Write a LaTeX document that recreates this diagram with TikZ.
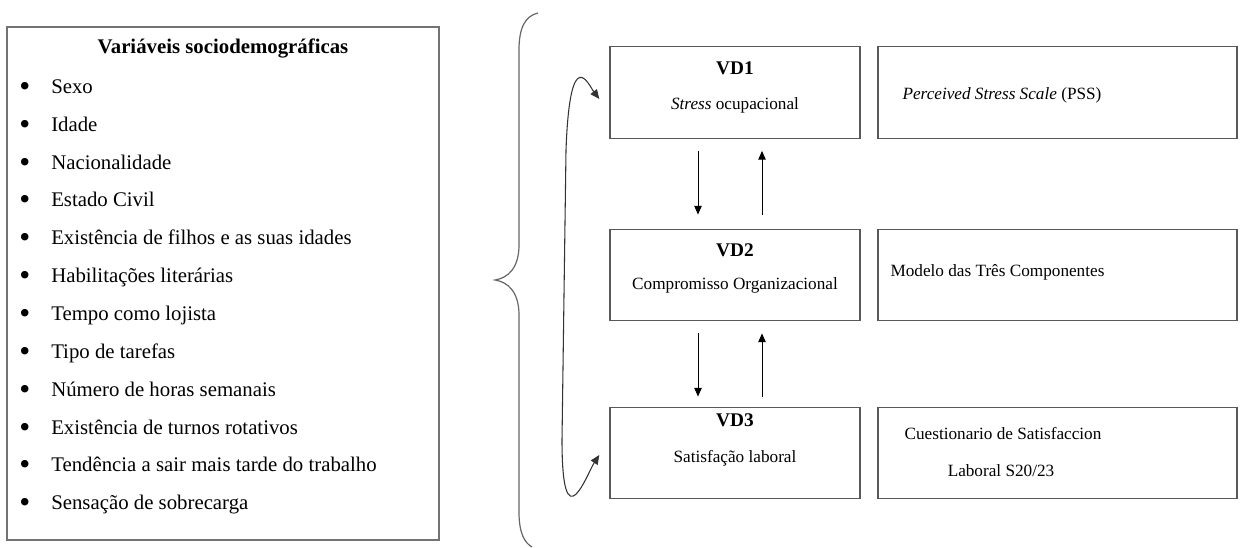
\documentclass[tikz,border=0pt]{standalone}
\usepackage{graphicx}
\usepackage{fontspec}
\setmainfont{Liberation Serif}
\usetikzlibrary{arrows.meta}

\begin{document}
\begin{tikzpicture}[x=0.75pt,y=-0.75pt]
		\tikzstyle{sociobox}=[draw=black!55,line width=1.3pt,minimum width=324pt,minimum height=384.75pt,inner sep=0pt]
		\tikzstyle{vdbox}=[draw=black!65,line width=1pt,minimum width=187.5pt,minimum height=68.6pt,inner sep=0pt]
		\tikzstyle{scalebox}=[draw=black!65,line width=1pt,minimum width=269.25pt,minimum height=68.6pt,inner sep=0pt]
		\tikzstyle{vartitle}=[anchor=base,inner sep=0pt,font=\fontsize{15.6}{18}\selectfont\bfseries]
		\tikzstyle{varitem}=[anchor=base west,inner sep=0pt,font=\fontsize{15.6}{18}\selectfont]
		\tikzstyle{vdlabel}=[anchor=base,inner sep=0pt,font=\fontsize{14.5}{17}\selectfont\bfseries]
		\tikzstyle{vdtext}=[anchor=base,inner sep=0pt,font=\fontsize{12.9}{15}\selectfont]
		\tikzstyle{flow}=[-{Triangle[length=6.5pt,width=5.5pt]},line width=0.7pt]
		\useasboundingbox (0,0) rectangle (1245,548);
		% sociodemographic variables
		\node[sociobox] (socio) at (223,283.5) {};
		\node[vartitle] (socio_t) at (223,54) {Variáveis sociodemográficas};
		\node[varitem] (v_1) at (19,93.5) {\makebox[24pt][l]{\raisebox{-2.2pt}{\scalebox{1.5}{\textbullet}}}Sexo};
		\node[varitem] (v_2) at (19,131.3) {\makebox[24pt][l]{\raisebox{-2.2pt}{\scalebox{1.5}{\textbullet}}}Idade};
		\node[varitem] (v_3) at (19,169.2) {\makebox[24pt][l]{\raisebox{-2.2pt}{\scalebox{1.5}{\textbullet}}}Nacionalidade};
		\node[varitem] (v_4) at (19,207) {\makebox[24pt][l]{\raisebox{-2.2pt}{\scalebox{1.5}{\textbullet}}}Estado Civil};
		\node[varitem] (v_5) at (19,244.9) {\makebox[24pt][l]{\raisebox{-2.2pt}{\scalebox{1.5}{\textbullet}}}Existência de filhos e as suas idades};
		\node[varitem] (v_6) at (19,282.7) {\makebox[24pt][l]{\raisebox{-2.2pt}{\scalebox{1.5}{\textbullet}}}Habilitações literárias};
		\node[varitem] (v_7) at (19,320.5) {\makebox[24pt][l]{\raisebox{-2.2pt}{\scalebox{1.5}{\textbullet}}}Tempo como lojista};
		\node[varitem] (v_8) at (19,358.4) {\makebox[24pt][l]{\raisebox{-2.2pt}{\scalebox{1.5}{\textbullet}}}Tipo de tarefas};
		\node[varitem] (v_9) at (19,396.2) {\makebox[24pt][l]{\raisebox{-2.2pt}{\scalebox{1.5}{\textbullet}}}Número de horas semanais};
		\node[varitem] (v_10) at (19,434.1) {\makebox[24pt][l]{\raisebox{-2.2pt}{\scalebox{1.5}{\textbullet}}}Existência de turnos rotativos};
		\node[varitem] (v_11) at (19,471.9) {\makebox[24pt][l]{\raisebox{-2.2pt}{\scalebox{1.5}{\textbullet}}}Tendência a sair mais tarde do trabalho};
		\node[varitem] (v_12) at (19,509.7) {\makebox[24pt][l]{\raisebox{-2.2pt}{\scalebox{1.5}{\textbullet}}}Sensação de sobrecarga};
		% brace
		\draw[draw=black!60,line width=0.9pt] (538,13) .. controls (525,16) and (519,28) .. (519,50) -- (519,245)
			.. controls (519,268) and (508,278) .. (495,280) .. controls (508,282) and (519,292) .. (519,315)
			-- (519,512) .. controls (519,534) and (525,543) .. (532,547);
		% dependent variables
		\node[vdbox] (vd_1) at (735,92.5) {};
		\node[vdbox] (vd_2) at (735,275) {};
		\node[vdbox] (vd_3) at (735,453) {};
		\node[vdlabel] (vd_1l) at (735,75) {VD1};
		\node[vdtext] (vd_1t) at (735,110) {\textit{Stress} ocupacional};
		\node[vdlabel] (vd_2l) at (735,257) {VD2};
		\node[vdtext] (vd_2t) at (735,290) {Compromisso Organizacional};
		\node[vdlabel] (vd_3l) at (735,427) {VD3};
		\node[vdtext] (vd_3t) at (735,462) {Satisfação laboral};
		% instruments
		\node[scalebox] (s_1) at (1057.5,92.5) {};
		\node[scalebox] (s_2) at (1057.5,275) {};
		\node[scalebox] (s_3) at (1057.5,453) {};
		\node[vdtext] (s_1t) at (1002,100) {\textit{Perceived Stress Scale} (PSS)};
		\node[vdtext] (s_2t) at (997.5,277) {Modelo das Três Componentes};
		\node[vdtext] (s_3a) at (1003,440) {Cuestionario de Satisfaccion};
		\node[vdtext] (s_3b) at (1001,476) {Laboral S20/23};
		% arrows
		\coordinate (down_x) at (698,0);
		\coordinate (up_x) at (762,0);
		\draw[flow,shorten <=9pt,shorten >=10.5pt] (down_x |- vd_1.south) -- (down_x |- vd_2.north);
		\draw[flow,shorten <=10.5pt,shorten >=9pt] (up_x |- vd_2.north) -- (up_x |- vd_1.south);
		\draw[flow,shorten <=9pt,shorten >=7.5pt] (down_x |- vd_2.south) -- (down_x |- vd_3.north);
		\draw[flow,shorten <=7.5pt,shorten >=9pt] (up_x |- vd_3.north) -- (up_x |- vd_2.south);
		\draw[{Triangle[length=7pt,width=6pt]}-{Triangle[length=7pt,width=6pt]},line width=0.8pt,draw=black!80]
			([shift={(-10,6.5)}]vd_1.west) .. controls +(-10,-13) and +(4,-110) .. (566,150) -- (562,440)
			.. controls +(0,105) and +(-12,18) .. ([shift={(-10,2)}]vd_3.west);
	\end{tikzpicture}
\end{document}
